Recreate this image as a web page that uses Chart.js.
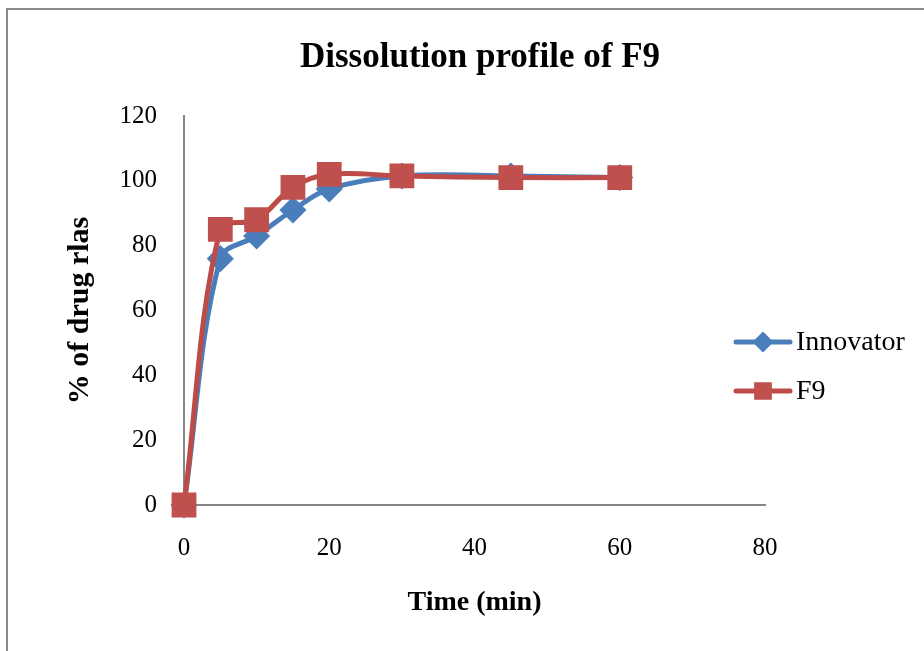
<!DOCTYPE html>
<html>
<head>
<meta charset="utf-8">
<script src="https://cdn.jsdelivr.net/npm/chart.js@4/dist/chart.umd.min.js"></script>
<style>
  html, body { margin: 0; padding: 0; background: #fff; }
  .wrap { position: relative; width: 924px; height: 651px; overflow: hidden; }
  .frame { position: absolute; left: 6px; top: 8px; width: 940px; height: 660px;
           border-left: 2px solid #8a8a8a; border-top: 2px solid #8a8a8a; }
  canvas { position: absolute; left: 0; top: 0; }
</style>
</head>
<body>
<div class="wrap">
  <div class="frame"></div>
  <canvas id="chart" width="924" height="651"></canvas>
</div>
<script>
const timeMin = [0, 5, 10, 15, 20, 30, 45, 60];
const innovator = [0, 76, 83, 91, 97.5, 101.5, 101.5, 101];
const f9 = [0, 85, 88, 98, 102, 101.5, 101, 101];
const xTicks = [0, 20, 40, 60, 80];
const yTicks = [0, 20, 40, 60, 80, 100, 120];

const serif = '"Liberation Serif", "Times New Roman", serif';

function toPoints(xs, ys) {
  return xs.map((x, i) => ({ x: x, y: ys[i] }));
}

// legend drawn beside the lines, overlapping the empty end of the x range
const sideLegend = {
  id: 'sideLegend',
  afterDraw(chart) {
    const ctx = chart.ctx;
    const left = 736, right = 790, top = 342, gap = 49;
    chart.data.datasets.forEach((ds, i) => {
      const y = top + i * gap;
      ctx.save();
      ctx.strokeStyle = ds.borderColor;
      ctx.lineWidth = ds.borderWidth;
      ctx.lineCap = 'round';
      ctx.beginPath();
      ctx.moveTo(left, y);
      ctx.lineTo(right, y);
      ctx.stroke();
      ctx.fillStyle = ds.pointBackgroundColor;
      ctx.strokeStyle = ds.pointBackgroundColor;
      Chart.helpers.drawPoint(ctx, {
        pointStyle: ds.pointStyle,
        radius: ds.legendRadius,
        rotation: 0,
        borderWidth: 1
      }, (left + right) / 2, y);
      ctx.fillStyle = '#000';
      ctx.font = '28px ' + serif;
      ctx.textAlign = 'left';
      ctx.textBaseline = 'middle';
      ctx.fillText(ds.label, right + 6, y + 1);
      ctx.restore();
    });
  }
};

new Chart(document.getElementById('chart').getContext('2d'), {
  type: 'line',
  data: {
    datasets: [
      {
        label: 'Innovator',
        data: toPoints(timeMin, innovator),
        order: 1,
        borderColor: '#4a7ebb',
        borderWidth: 5,
        pointStyle: 'rectRot',
        pointRadius: 10,
        legendRadius: 7,
        pointBackgroundColor: '#4a7ebb',
        pointBorderColor: '#4a7ebb',
        tension: 0.35,
        clip: false
      },
      {
        label: 'F9',
        data: toPoints(timeMin, f9),
        order: 0,
        borderColor: '#be4b48',
        borderWidth: 5,
        pointStyle: 'rect',
        pointRadius: 14,
        legendRadius: 9,
        pointBackgroundColor: '#c0504d',
        pointBorderColor: '#c0504d',
        tension: 0.35,
        clip: false
      }
    ]
  },
  options: {
    responsive: false,
    animation: false,
    layout: { padding: { left: 36, right: 0, top: 0, bottom: 0 } },
    plugins: {
      legend: { display: false },
      tooltip: { enabled: false },
      title: {
        display: true,
        text: 'Dissolution profile of F9',
        color: '#000',
        font: { family: serif, size: 35, weight: 'bold' },
        padding: { top: 37, bottom: 37 }
      }
    },
    scales: {
      x: {
        type: 'linear',
        min: 0, max: 80,
        afterBuildTicks: s => { s.ticks = xTicks.map(v => ({ value: v })); },
        afterFit: s => { s.height = 146; },
        grid: { display: false, drawTicks: false },
        border: { color: '#868686', width: 2 },
        ticks: { color: '#000', padding: 28, font: { family: serif, size: 25 } },
        title: {
          display: true, text: 'Time (min)', color: '#000',
          font: { family: serif, size: 28, weight: 'bold' },
          padding: { top: 0, bottom: 31 }
        }
      },
      y: {
        min: 0, max: 120,
        afterBuildTicks: s => { s.ticks = yTicks.map(v => ({ value: v })); },
        afterFit: s => { s.width = 148; },
        grid: { display: false, drawTicks: false },
        border: { color: '#868686', width: 2 },
        ticks: { color: '#000', padding: 27, font: { family: serif, size: 25 } },
        title: {
          display: true, text: '% of drug rlas', color: '#000',
          font: { family: serif, size: 30, weight: 'bold' },
          padding: { top: 26, bottom: 0 }
        }
      },
      spacer: {
        type: 'linear',
        position: 'right',
        afterFit: s => { s.width = 159; },
        grid: { display: false, drawTicks: false },
        border: { display: false },
        ticks: { display: false },
        title: { display: false }
      }
    }
  },
  plugins: [sideLegend]
});
</script>
</body>
</html>
